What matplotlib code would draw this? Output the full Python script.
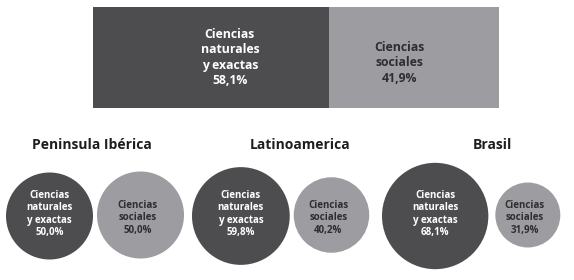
import numpy as np
import matplotlib.pyplot as plt
from matplotlib.patches import Circle

# overall split (top bar)
total_labels = ['Ciencias\nnaturales\ny exactas', 'Ciencias\nsociales']
total_values = [58.1, 41.9]

# regional splits (circles)
regions = ['Peninsula Ibérica', 'Latinoamerica', 'Brasil']
natural_values = [50.0, 59.8, 68.1]
social_values = [50.0, 40.2, 31.9]

DARK = '#4d4c4f'
LIGHT = '#9d9ca0'
TXT_LIGHT = '#2e2d30'
FONT = ['Open Sans', 'DejaVu Sans']


def pct(v):
    return f'{v:.1f}'.replace('.', ',') + '%'


fig = plt.figure(figsize=(5.74, 2.80), dpi=100)

# top stacked bar
ax_bar = fig.add_axes([93 / 574, 1 - 108 / 280, 406 / 574, 101 / 280])
lefts = np.concatenate([[0], np.cumsum(total_values)[:-1]])
ax_bar.barh(0, total_values, left=lefts, height=1, color=[DARK, LIGHT], linewidth=0)
ax_bar.set_xlim(0, 100)
ax_bar.set_ylim(-0.5, 0.5)
ax_bar.axis('off')
text_x = [33.7, 75.4]
for i, (lab, v) in enumerate(zip(total_labels, total_values)):
    ax_bar.text(text_x[i], 0.0 if i == 0 else -0.05, lab + '\n' + pct(v),
                ha='center', va='center', fontsize=8.8, fontweight='bold',
                color='white' if i == 0 else TXT_LIGHT, family=FONT, linespacing=1.25)

# circles, in pixel coordinates
ax = fig.add_axes([0, 0, 1, 1])
ax.set_xlim(0, 574)
ax.set_ylim(280, 0)
ax.axis('off')
ax.patch.set_alpha(0)


def radius(v):
    return 43.5 * (v / 50.0) ** 0.65


group_left = [6, 192, 382]
gaps = [4, 4, 7]
title_x = [92, 300, 492]
cy = 216
for i, reg in enumerate(regions):
    rn = radius(natural_values[i])
    rs = radius(social_values[i])
    cxn = group_left[i] + rn
    cxs = group_left[i] + 2 * rn + gaps[i] + rs
    ax.add_patch(Circle((cxn, cy), rn, color=DARK, linewidth=0))
    ax.add_patch(Circle((cxs, cy - 1), rs, color=LIGHT, linewidth=0))
    ax.text(cxn, cy - 2, 'Ciencias\nnaturales\ny exactas\n' + pct(natural_values[i]),
            ha='center', va='center', fontsize=7.0, fontweight='bold', color='white',
            family=FONT, linespacing=1.2)
    ax.text(cxs - 3, cy + 2, 'Ciencias\nsociales\n' + pct(social_values[i]),
            ha='center', va='center', fontsize=7.0, fontweight='bold', color=TXT_LIGHT,
            family=FONT, linespacing=1.2)
    ax.text(title_x[i], 145, reg, ha='center', va='center', fontsize=10,
            fontweight='bold', color='#1e1d20', family=FONT)

fig.savefig('out.png', dpi=100)
